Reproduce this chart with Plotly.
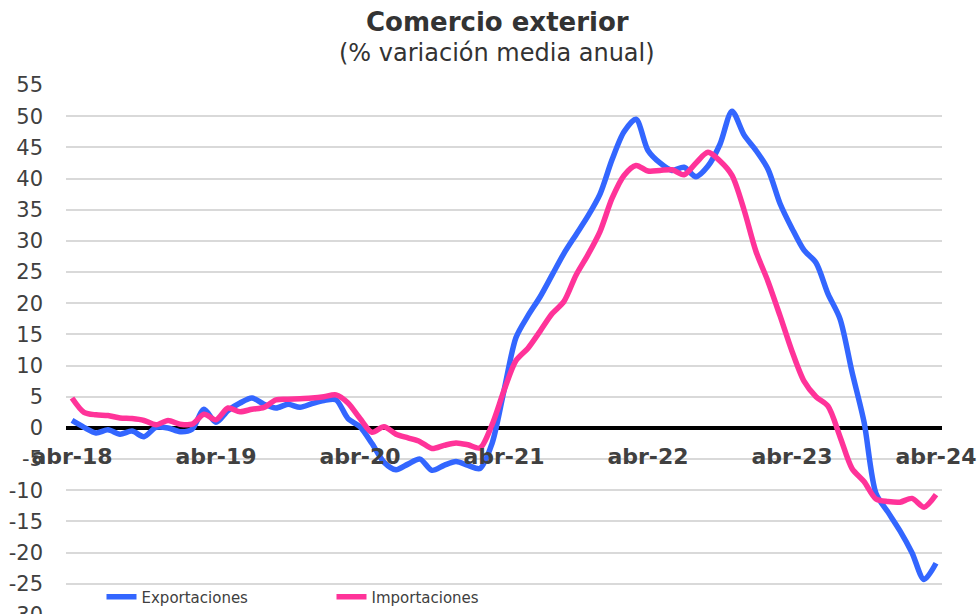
import plotly.graph_objects as go

# Monthly categories: abr-18 ... abr-24
MESES = ["ene", "feb", "mar", "abr", "may", "jun", "jul", "ago", "sep", "oct", "nov", "dic"]
meses = []
for anio in range(18, 25):
    for m in MESES:
        meses.append(f"{m}-{anio}")
meses = meses[meses.index("abr-18"): meses.index("abr-24") + 1]

tick_labels = ["abr-18", "abr-19", "abr-20", "abr-21", "abr-22", "abr-23", "abr-24"]

exportaciones = [
    1.2, 0.1, -0.8, -0.3, -1.0, -0.5, -1.4, 0.1, 0.0, -0.6, -0.2, 3.0,
    0.9, 2.8, 4.0, 4.8, 3.8, 3.2, 3.8, 3.3, 3.9, 4.4, 4.5, 1.5,
    0.2, -2.5, -5.5, -6.7, -5.8, -5.0, -6.8, -6.0, -5.4, -6.0, -6.5, -2.5,
    6.0, 14.5, 18.0, 21.0, 24.5, 28.0, 31.0, 34.0, 37.5, 43.0, 47.5, 49.5,
    44.5, 42.5, 41.3, 41.8, 40.3, 42.0, 45.5, 50.8, 47.0, 44.5, 41.5, 36.0,
    32.0, 28.5, 26.5, 21.5, 17.5, 9.0, 1.0, -10.5, -13.5, -16.5, -20.0, -24.3,
    -21.7,
]

importaciones = [
    4.8, 2.5, 2.1, 2.0, 1.6, 1.5, 1.2, 0.5, 1.2, 0.6, 0.6, 2.2,
    1.3, 3.2, 2.6, 3.0, 3.3, 4.5, 4.6, 4.7, 4.8, 5.0, 5.3, 4.0,
    1.5, -0.7, 0.2, -1.0, -1.6, -2.2, -3.3, -2.8, -2.4, -2.7, -3.2, 0.5,
    6.0, 10.8, 12.8, 15.5, 18.3, 20.3, 24.5, 27.8, 31.5, 36.8, 40.5, 42.1,
    41.2, 41.3, 41.4, 40.6, 42.5, 44.2, 42.8, 40.5, 35.0, 28.3, 23.5, 18.0,
    12.3, 7.5, 5.0, 3.5, -1.4, -6.5, -8.6, -11.4, -11.8, -11.9, -11.3, -12.7,
    -10.7,
]

y_ticks = list(range(-30, 56, 5))
y_tick_text = [str(v) for v in y_ticks]

BLUE = "#3366FF"
PINK = "#FF3399"
TEXT = "#404040"
FONT = "DejaVu Sans"

fig = go.Figure()
fig.add_trace(go.Scatter(
    x=meses, y=exportaciones, name="Exportaciones", mode="lines",
    line=dict(color=BLUE, width=5.5, shape="spline", smoothing=0.8),
))
fig.add_trace(go.Scatter(
    x=meses, y=importaciones, name="Importaciones", mode="lines",
    line=dict(color=PINK, width=5.5, shape="spline", smoothing=0.8),
))

W, H = 979, 620
ml, mr, mt, mb = 66, 37, 85, 0
plot_w = W - ml - mr
plot_h = H - mt - mb
ymin, ymax = -30.8, 55
zero_paper = (0 - ymin) / (ymax - ymin)

fig.update_layout(
    width=W, height=H,
    margin=dict(l=ml, r=mr, t=mt, b=mb, autoexpand=False),
    paper_bgcolor="white", plot_bgcolor="white",
    font=dict(family=FONT, color=TEXT),
    showlegend=True,
    legend=dict(
        orientation="h", x=(101.5 - ml) / plot_w, y=(H - 597) / plot_h,
        xanchor="left", yanchor="middle",
        font=dict(family=FONT, size=15, color=TEXT),
        entrywidth=185, entrywidthmode="pixels",
        bgcolor="rgba(0,0,0,0)", itemwidth=30,
    ),
    xaxis=dict(
        type="category", range=[-0.5, len(meses) - 0.5],
        tickmode="array", tickvals=tick_labels, ticktext=tick_labels,
        showgrid=False, showline=False, zeroline=False,
        anchor="free", position=zero_paper, ticks="",
        ticklabelstandoff=13, ticklabeloverflow="allow",
        tickfont=dict(family=FONT, size=22, color=TEXT, weight="bold"),
        automargin=False,
    ),
    yaxis=dict(
        range=[ymin, ymax], tickmode="array", tickvals=y_ticks, ticktext=y_tick_text,
        showgrid=True, gridcolor="#D9D9D9", gridwidth=1.5,
        zeroline=True, zerolinecolor="black", zerolinewidth=4,
        showline=False, ticks="",
        ticklabelstandoff=22, ticklabeloverflow="allow",
        tickfont=dict(family=FONT, size=21, color=TEXT),
        automargin=False,
    ),
    annotations=[
        dict(text="<b>Comercio exterior</b>", xref="paper", yref="paper",
             x=(497 - ml) / plot_w, y=1 + (mt - 22) / plot_h,
             xanchor="center", yanchor="middle",
             showarrow=False, font=dict(family=FONT, size=26, color="#333333")),
        dict(text="(% variación media anual)", xref="paper", yref="paper",
             x=(497 - ml) / plot_w, y=1 + (mt - 53) / plot_h,
             xanchor="center", yanchor="middle",
             showarrow=False, font=dict(family=FONT, size=24, color="#333333")),
    ],
)

fig.write_html(
    "out.html",
    config={"displayModeBar": False},
    post_script=(
        "document.body.style.margin='0';"
        "document.body.style.overflow='hidden';"
        "document.documentElement.style.overflow='hidden';"
    ),
)
